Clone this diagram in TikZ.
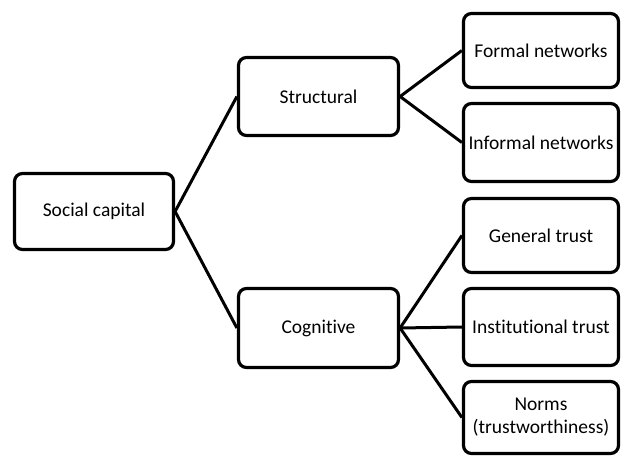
\documentclass[tikz,border=0pt]{standalone}
\usepackage{fontspec}
\setmainfont{Carlito}[Ligatures=NoCommon]

\begin{document}
\begin{tikzpicture}[x=1pt, y=-1pt,
	box/.style={draw, line width=3.2pt, rounded corners=8pt, align=center,
		font=\fontsize{19.5}{23}\selectfont, minimum height=77pt, inner sep=2pt},
	mid/.style={box, minimum width=160pt},
	leaf/.style={box, minimum width=155pt},
	link/.style={line width=3pt}
	]
	\useasboundingbox (0,0) rectangle (621,457);
	
	% Root
	\node[box, minimum width=159pt, minimum height=76pt] (social) at (94,211.5) {Social capital};
	
	% Dimensions
	\node[mid, minimum height=78pt] (struct) at (318.5,96.5) {Structural};
	\node[mid, minimum height=79pt] (cogn) at (318.5,328) {Cognitive};
	
	% Leaves
	\node[leaf, minimum height=74pt] (formal) at (541,50.5) {Formal networks};
	\node[leaf, minimum height=78pt] (informal) at (541,142.5) {Informal networks};
	\node[leaf, minimum height=74pt] (general) at (541,235.5) {General trust};
	\node[leaf, minimum height=77pt] (inst) at (541,327) {Institutional trust};
	\node[leaf, minimum height=72pt] (norms) at (541,417.5) {Norms\\(trustworthiness)};
	
	% Connectors
	\draw[link] (social.east) -- (struct.west);
	\draw[link] (social.east) -- (cogn.west);
	\draw[link] (struct.east) -- (formal.west);
	\draw[link] (struct.east) -- (informal.west);
	\draw[link] (cogn.east) -- (general.west);
	\draw[link] (cogn.east) -- (inst.west);
	\draw[link] (cogn.east) -- (norms.west);
	
\end{tikzpicture}
\end{document}
